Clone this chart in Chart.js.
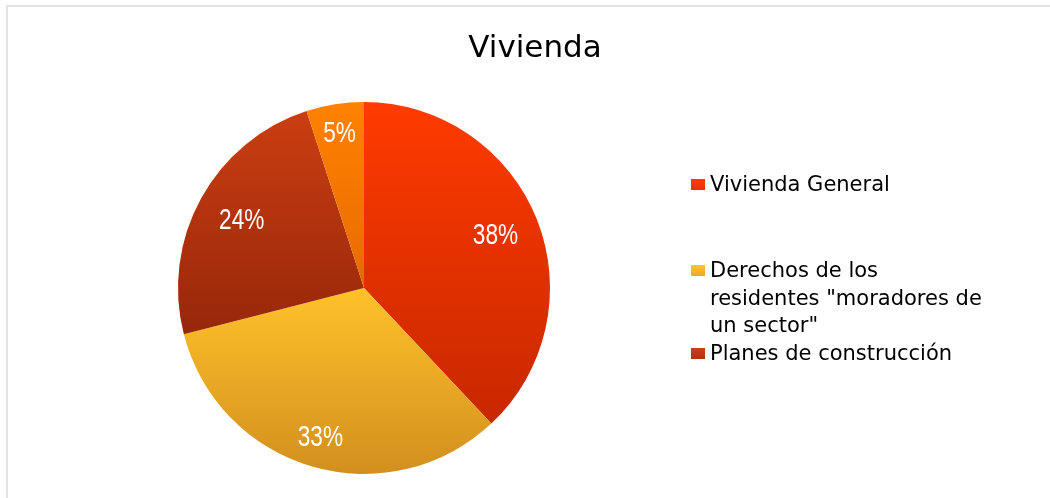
<!DOCTYPE html>
<html>
<head>
<meta charset="utf-8">
<script src="https://cdn.jsdelivr.net/npm/chart.js@4/dist/chart.umd.min.js"></script>
<style>
  body { margin: 0; background: #fff; }
  #wrap { position: relative; width: 1050px; height: 498px; background: #fff; }
  #frame { position: absolute; left: 6px; top: 5px; right: 0; bottom: 0;
           border-top: 2px solid #e4e4de; border-left: 2px solid #e4e4de; }
  #pie { position: absolute; left: 0; top: 0; }
</style>
</head>
<body>
<div id="wrap">
  <div id="frame"></div>
  <canvas id="pie" width="1050" height="498"></canvas>
</div>
<script>
const chartTitle = 'Vivienda';
const categories = ['Vivienda General', 'Derechos de los residentes "moradores de un sector"', 'Planes de construcción', 'Otros'];
const shares = [38, 33, 24, 5];
const legendShown = [true, true, true, false];

// gradient stops per slice (top of pie -> bottom of pie)
const sliceGradients = [
  [[0, '#ff3b00'], [1, '#bf2400']],
  [[0, '#ffc52c'], [0.5, '#ffc22a'], [1, '#d28f1e']],
  [[0, '#cd3f12'], [0.62, '#97270a'], [1, '#7c1d04']],
  [[0, '#ff8200'], [0.5, '#e86a00'], [1, '#d85e00']]
];
const legendSwatch = ['#e83200', '#eaaa24', '#b0320e', '#f07400'];
// how far out (fraction of radius) each percentage label sits
const labelReach = [0.76, 0.84, 0.75, 0.84];

function sliceFill(ctx) {
  const chart = ctx.chart;
  const area = chart.chartArea;
  const stops = sliceGradients[ctx.dataIndex];
  if (!area) return stops[0][1];
  const g = chart.ctx.createLinearGradient(0, area.top, 0, area.bottom);
  stops.forEach(s => g.addColorStop(s[0], s[1]));
  return g;
}

const extras = {
  id: 'extras',
  afterDatasetsDraw(chart) {
    const ctx = chart.ctx;
    const meta = chart.getDatasetMeta(0);
    ctx.save();

    // percentage labels inside slices (narrowed font)
    ctx.fillStyle = '#ffffff';
    ctx.font = '29px "Liberation Sans", Arial, sans-serif';
    ctx.textAlign = 'center';
    ctx.textBaseline = 'middle';
    const total = shares.reduce((a, b) => a + b, 0);
    meta.data.forEach((arc, i) => {
      const p = arc.getProps(['x', 'y', 'startAngle', 'endAngle', 'outerRadius']);
      const mid = (p.startAngle + p.endAngle) / 2;
      const r = p.outerRadius * labelReach[i];
      const pct = Math.round(shares[i] / total * 100) + '%';
      const lx = p.x + Math.cos(mid) * r;
      const ly = p.y + Math.sin(mid) * r;
      ctx.save();
      ctx.translate(lx, ly);
      ctx.scale(0.78, 1);
      ctx.fillText(pct, 0, 0);
      ctx.restore();
    });

    // title
    ctx.fillStyle = '#000000';
    ctx.font = '31px "DejaVu Sans", sans-serif';
    ctx.textBaseline = 'alphabetic';
    ctx.fillText(chartTitle, 535, 57);

    // legend
    ctx.textAlign = 'left';
    ctx.font = '21px "DejaVu Sans", sans-serif';
    const rowsY = [191, 277, 360];
    const lineH = 27.5;
    let row = 0;
    categories.forEach((label, i) => {
      if (!legendShown[i]) return;
      const words = label.split(' ');
      const lines = [];
      let cur = '';
      words.forEach(w => {
        const test = cur ? cur + ' ' + w : w;
        if (cur && ctx.measureText(test).width > 283.5) {
          lines.push(cur);
          cur = w;
        } else {
          cur = test;
        }
      });
      lines.push(cur);
      const y0 = rowsY[row++];
      const sg = ctx.createLinearGradient(0, y0 - 12, 0, y0 - 1);
      sg.addColorStop(0, sliceGradients[i][0][1]);
      sg.addColorStop(1, legendSwatch[i]);
      ctx.fillStyle = sg;
      ctx.fillRect(691, y0 - 12, 14, 11);
      ctx.fillStyle = '#000000';
      lines.forEach((ln, k) => ctx.fillText(ln, 710, y0 + k * lineH));
    });
    ctx.restore();
  }
};

new Chart(document.getElementById('pie'), {
  type: 'pie',
  data: {
    labels: categories,
    datasets: [{
      data: shares,
      backgroundColor: sliceFill,
      borderWidth: 0
    }]
  },
  options: {
    responsive: false,
    animation: false,
    layout: { padding: { left: 178, right: 500, top: 102, bottom: 24 } },
    plugins: {
      legend: { display: false },
      title: { display: false },
      tooltip: { enabled: false }
    }
  },
  plugins: [extras]
});
</script>
</body>
</html>
